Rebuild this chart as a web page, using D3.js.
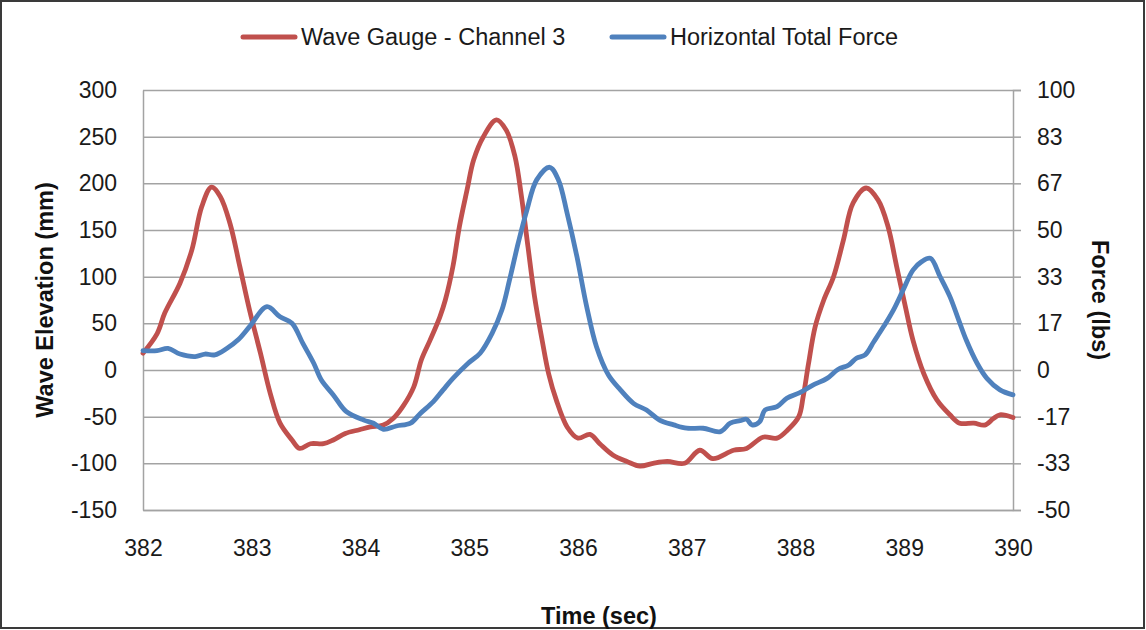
<!DOCTYPE html>
<html>
<head>
<meta charset="utf-8">
<script src="https://cdn.jsdelivr.net/npm/d3@7"></script>
<style>
  html, body { margin: 0; padding: 0; background: #fff; }
  svg { display: block; font-family: "Liberation Sans", Arial, sans-serif; }
</style>
</head>
<body>
<div id="chart"></div>
<script>
// wave gauge channel 3: [time (s), elevation (mm)]
var waveGauge = [
  [382.00,18],[382.13,39],[382.20,61],[382.34,93],[382.45,129],[382.54,175],[382.63,196],
  [382.71,186],[382.80,157],[382.89,111],[382.98,64],[383.08,18],[383.17,-25],[383.26,-57],
  [383.37,-75],[383.44,-84],[383.54,-79],[383.66,-79],[383.75,-75],[383.86,-68],[383.99,-64],
  [384.09,-61],[384.21,-59],[384.30,-52],[384.39,-39],[384.49,-18],[384.56,11],[384.64,32],
  [384.73,57],[384.78,75],[384.85,111],[384.91,154],[384.98,193],[385.04,225],[385.13,250],
  [385.25,268],[385.34,257],[385.42,229],[385.48,186],[385.54,132],[385.60,79],[385.67,32],
  [385.73,-4],[385.80,-32],[385.90,-61],[386.00,-73],[386.11,-69],[386.20,-79],[386.32,-91],
  [386.45,-98],[386.57,-103],[386.69,-100],[386.82,-98],[386.98,-100],[387.12,-86],[387.24,-95],
  [387.43,-86],[387.55,-84],[387.70,-72],[387.83,-73],[387.93,-64],[388.03,-50],[388.07,-29],
  [388.12,7],[388.18,46],[388.26,75],[388.35,100],[388.44,139],[388.53,179],[388.65,195],
  [388.76,182],[388.85,154],[388.93,111],[389.01,68],[389.08,32],[389.18,-4],[389.30,-32],
  [389.42,-48],[389.51,-57],[389.64,-57],[389.74,-59],[389.82,-52],[389.88,-48],[390.00,-51]
];

// horizontal total force: [time (s), force (lbs)]
var totalForce = [
  [382.00,6.9],[382.13,6.9],[382.23,7.7],[382.34,5.7],[382.48,4.8],[382.57,5.7],[382.66,5.4],
  [382.77,7.7],[382.88,11.0],[382.98,15.5],[383.14,22.6],[383.26,19.0],[383.37,16.7],[383.47,9.5],
  [383.57,2.4],[383.64,-3.6],[383.75,-8.9],[383.87,-14.9],[384.03,-17.9],[384.12,-19.0],[384.21,-21.2],
  [384.33,-20.0],[384.46,-19.0],[384.55,-15.5],[384.67,-11.3],[384.76,-7.1],[384.85,-3.0],[384.99,2.4],
  [385.10,6.0],[385.21,13.1],[385.30,21.4],[385.37,32.1],[385.45,45.3],[385.53,57.1],[385.62,67.9],
  [385.74,72.4],[385.82,67.9],[385.90,56.0],[385.99,40.5],[386.08,22.6],[386.17,8.3],[386.28,-1.8],
  [386.39,-7.1],[386.51,-11.9],[386.63,-14.3],[386.75,-17.9],[386.88,-19.6],[387.00,-20.8],[387.15,-20.8],
  [387.31,-22.0],[387.40,-19.0],[387.49,-18.1],[387.55,-17.6],[387.60,-19.6],[387.67,-18.5],[387.72,-14.3],
  [387.83,-13.1],[387.92,-10.1],[388.04,-8.1],[388.16,-5.4],[388.29,-3.0],[388.39,0.2],[388.49,1.8],
  [388.56,4.2],[388.64,5.4],[388.72,10.1],[388.81,15.5],[388.90,21.4],[388.99,28.6],[389.08,35.7],
  [389.16,38.7],[389.24,39.9],[389.33,33.3],[389.42,26.2],[389.50,17.9],[389.57,10.7],[389.67,2.4],
  [389.76,-3.0],[389.88,-7.1],[390.00,-8.9]
];

var timeTicks = [382, 383, 384, 385, 386, 387, 388, 389, 390];
var elevTicks = [-150, -100, -50, 0, 50, 100, 150, 200, 250, 300];
var forceTicks = d3.range(10).map(function(i) { return -50 + i * 50 / 3; });

var seriesNames = ['Wave Gauge - Channel 3', 'Horizontal Total Force'];
var seriesColors = ['#C0504D', '#4F81BD'];

var W = 1146, H = 630;
var plotLeft = 143, plotRight = 1013, plotTop = 90, plotBottom = 510;
var labelFont = '"Liberation Sans", Arial, sans-serif';
var tickFont = 23;

// plain hyphen for negatives, as the spreadsheet prints them
function plain(d) { return String(Math.round(d)); }

var svg = d3.select('#chart').append('svg')
  .attr('width', W).attr('height', H);

// frame
svg.append('rect')
  .attr('x', 1).attr('y', 1).attr('width', W - 3).attr('height', H - 3)
  .attr('fill', '#fff').attr('stroke', '#3a3a3a').attr('stroke-width', 2);

var x = d3.scaleLinear().domain([382, 390]).range([plotLeft, plotRight]);
var yL = d3.scaleLinear().domain([-150, 300]).range([plotBottom, plotTop]);
var yR = d3.scaleLinear().domain([-50, 100]).range([plotBottom, plotTop]);

// horizontal gridlines
svg.append('g')
  .attr('transform', 'translate(' + plotLeft + ',0)')
  .call(d3.axisLeft(yL).tickValues(elevTicks).tickSize(-(plotRight - plotLeft)).tickFormat(''))
  .call(function(g) {
    g.select('.domain').remove();
    g.selectAll('line').attr('stroke', '#a3a3a3').attr('stroke-width', 1.5);
  });

// left axis labels
svg.append('g')
  .attr('transform', 'translate(' + plotLeft + ',0)')
  .call(d3.axisLeft(yL).tickValues(elevTicks).tickSize(0).tickPadding(26).tickFormat(plain))
  .call(function(g) {
    g.select('.domain').attr('stroke', '#a3a3a3').attr('stroke-width', 1.5);
    g.selectAll('text').attr('font-size', tickFont).attr('fill', '#1a1a1a')
      .attr('font-family', labelFont);
  });

// right axis
svg.append('g')
  .attr('transform', 'translate(' + plotRight + ',0)')
  .call(d3.axisRight(yR).tickValues(forceTicks).tickSize(8).tickPadding(16).tickFormat(plain))
  .call(function(g) {
    g.select('.domain').attr('stroke', '#a3a3a3').attr('stroke-width', 1.5);
    g.selectAll('line').attr('stroke', '#a3a3a3').attr('stroke-width', 1.5);
    g.selectAll('text').attr('font-size', tickFont).attr('fill', '#1a1a1a')
      .attr('font-family', labelFont);
  });

// bottom axis
svg.append('g')
  .attr('transform', 'translate(0,' + plotBottom + ')')
  .call(d3.axisBottom(x).tickValues(timeTicks).tickSize(0).tickPadding(30).tickFormat(plain))
  .call(function(g) {
    g.select('.domain').attr('stroke', '#a3a3a3').attr('stroke-width', 1.5);
    g.selectAll('text').attr('font-size', tickFont).attr('fill', '#1a1a1a')
      .attr('font-family', labelFont);
  });

// axis titles
svg.append('text')
  .attr('transform', 'translate(53,' + ((plotTop + plotBottom) / 2) + ') rotate(-90)')
  .attr('text-anchor', 'middle')
  .attr('font-size', 23.5).attr('font-weight', 'bold').attr('fill', '#111')
  .text('Wave Elevation (mm)');

svg.append('text')
  .attr('transform', 'translate(1092,' + ((plotTop + plotBottom) / 2) + ') rotate(90)')
  .attr('text-anchor', 'middle')
  .attr('font-size', 23.5).attr('font-weight', 'bold').attr('fill', '#111')
  .text('Force (lbs)');

svg.append('text')
  .attr('x', 599).attr('y', 624)
  .attr('text-anchor', 'middle')
  .attr('font-size', 23.5).attr('font-weight', 'bold').attr('fill', '#111')
  .text('Time (sec)');

// series lines
var lineL = d3.line()
  .x(function(d) { return x(d[0]); })
  .y(function(d) { return yL(d[1]); })
  .curve(d3.curveCatmullRom.alpha(0.5));

var lineR = d3.line()
  .x(function(d) { return x(d[0]); })
  .y(function(d) { return yR(d[1]); })
  .curve(d3.curveCatmullRom.alpha(0.5));

svg.append('path')
  .datum(waveGauge)
  .attr('d', lineL)
  .attr('fill', 'none')
  .attr('stroke', seriesColors[0])
  .attr('stroke-width', 4.8)
  .attr('stroke-linejoin', 'round')
  .attr('stroke-linecap', 'round');

svg.append('path')
  .datum(totalForce)
  .attr('d', lineR)
  .attr('fill', 'none')
  .attr('stroke', seriesColors[1])
  .attr('stroke-width', 4.8)
  .attr('stroke-linejoin', 'round')
  .attr('stroke-linecap', 'round');

// legend
var legendX = [243, 612];
seriesNames.forEach(function(name, i) {
  var g = svg.append('g').attr('transform', 'translate(' + legendX[i] + ',37)');
  g.append('line')
    .attr('x1', 0).attr('x2', 52).attr('y1', 0).attr('y2', 0)
    .attr('stroke', seriesColors[i]).attr('stroke-width', 5)
    .attr('stroke-linecap', 'round');
  g.append('text')
    .attr('x', 58).attr('y', 8)
    .attr('font-size', 23.5).attr('fill', '#1a1a1a')
    .text(name);
});
</script>
</body>
</html>
